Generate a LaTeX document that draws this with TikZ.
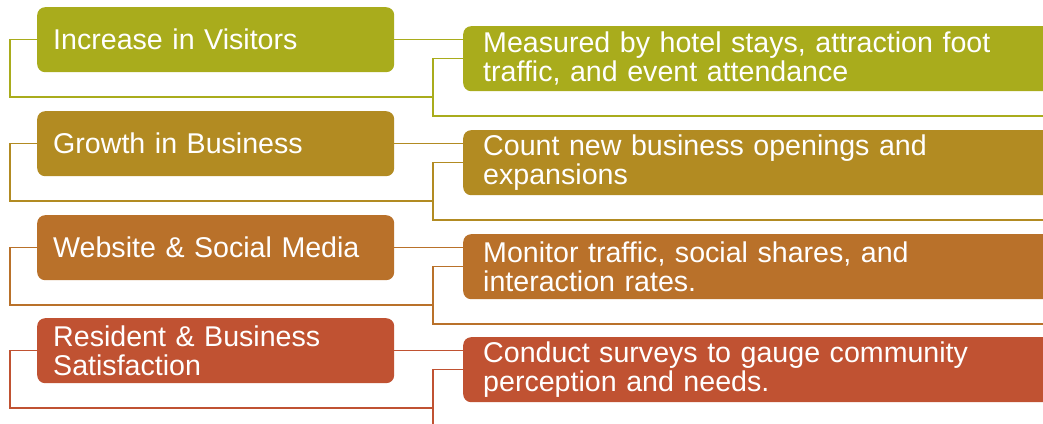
\documentclass[tikz,border=0pt]{standalone}
\usepackage{fontspec}
\setmainfont{Liberation Sans}
\usetikzlibrary{calc}
\definecolor{cA}{RGB}{169,172,28}
\definecolor{cB}{RGB}{178,139,34}
\definecolor{cC}{RGB}{185,113,42}
\definecolor{cD}{RGB}{192,82,50}
\begin{document}
\begin{tikzpicture}[x=1pt,y=-1pt,
  lbox/.style={rectangle, rounded corners=8pt, anchor=north west, minimum width=357pt,
    minimum height=65pt, text width=325pt, inner xsep=16pt, inner ysep=0pt, align=left,
    text=white, font=\fontsize{28.6}{29.5}\selectfont},
  rbox/.style={rectangle, rounded corners=8pt, anchor=north west, minimum width=620pt,
    minimum height=65pt, text width=580pt, inner xsep=20pt, inner ysep=0pt, align=left,
    text=white, font=\fontsize{28.6}{29.5}\selectfont},
  conn/.style={line width=1.3pt}]
\useasboundingbox (0,0) rectangle (1043,423);
\clip (0,0) rectangle (1043,423);
% row 1
\node[lbox, fill=cA] (L1) at (37,7) {Increase in Visitors};
\node[rbox, fill=cA] (R1) at (463,26) {Measured by hotel stays, attraction foot\\traffic, and event attendance};
% row 2
\node[lbox, fill=cB] (L2) at (37,111) {Growth in Business};
\node[rbox, fill=cB] (R2) at (463,130) {Count new business openings and\\expansions};
% row 3
\node[lbox, fill=cC] (L3) at (37,215) {Website \& Social Media};
\node[rbox, fill=cC] (R3) at (463,234) {Monitor traffic, social shares, and\\interaction rates.};
% row 4
\node[lbox, fill=cD] (L4) at (37,318) {Resident \& Business\\Satisfaction};
\node[rbox, fill=cD] (R4) at (463,337) {Conduct surveys to gauge community\\perception and needs.};
% connectors
\foreach \i/\c in {1/cA,2/cB,3/cC,4/cD}{
  \coordinate (J\i) at ($(R\i.west)+(-30,0)$);
  \coordinate (K\i) at ($(L\i.west)+(-27,0)$);
  \coordinate (B\i) at ($(L\i.north west)+(0,90)$);
  \coordinate (E\i) at ($(R\i.north east)+(0,90)$);
  \draw[conn, draw=\c] (L\i.west) -- (K\i) |- (B\i -| J\i);
  \draw[conn, draw=\c] (L\i.east) -- (L\i.east -| R\i.west);
  \draw[conn, draw=\c] (R\i.west) -- (J\i) |- (E\i);
}
\end{tikzpicture}
\end{document}
